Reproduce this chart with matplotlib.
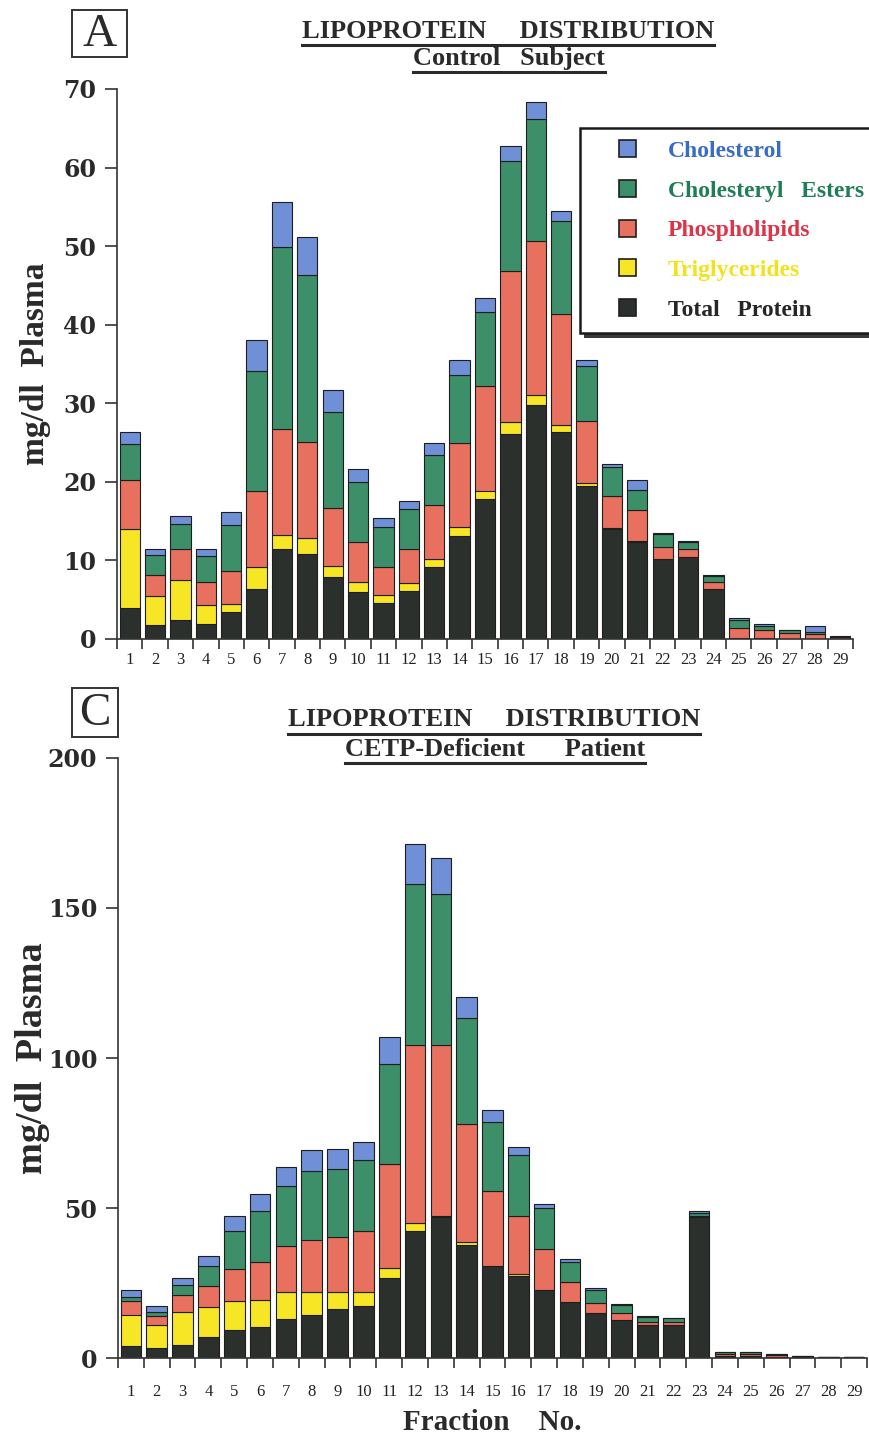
import matplotlib
matplotlib.use("Agg")
import matplotlib.pyplot as plt
import numpy as np
from matplotlib.patches import Rectangle
from matplotlib.lines import Line2D

# ---------------- data ----------------
fractions = list(range(1, 30))
fraction_labels = [str(f) for f in fractions]
components = ["Total   Protein", "Triglycerides", "Phospholipids",
              "Cholesteryl   Esters", "Cholesterol"]

# Panel A: control subject (mg/dl plasma per fraction)
ctrl_protein = [3.9, 1.8, 2.4, 1.9, 3.5, 6.4, 11.4, 10.8, 7.9, 6.0, 4.6, 6.1, 9.2, 13.1,
                17.8, 26.1, 29.8, 26.4, 19.5, 14.0, 12.4, 10.2, 10.4, 6.4, 0.1, 0.1, 0.05, 0.05, 0.05]
ctrl_tg = [10.1, 3.7, 5.1, 2.4, 0.9, 2.8, 1.9, 2.0, 1.4, 1.3, 1.0, 1.0, 1.0, 1.1,
           1.1, 1.5, 1.2, 0.9, 0.4, 0.1, 0.1, 0.0, 0.0, 0.0, 0.0, 0.0, 0.0, 0.0, 0.0]
ctrl_pl = [6.2, 2.6, 3.9, 3.0, 4.2, 9.7, 13.4, 12.3, 7.4, 5.0, 3.6, 4.4, 6.9, 10.7,
           13.3, 19.3, 19.6, 14.1, 7.9, 4.1, 3.9, 1.5, 1.0, 0.8, 1.3, 1.1, 0.75, 0.65, 0.2]
ctrl_ce = [4.6, 2.6, 3.3, 3.3, 5.9, 15.2, 23.2, 21.2, 12.2, 7.7, 5.1, 5.0, 6.3, 8.7,
           9.4, 13.9, 15.6, 11.8, 7.0, 3.7, 2.6, 1.7, 1.0, 0.8, 1.0, 0.4, 0.3, 0.2, 0.05]
ctrl_fc = [1.5, 0.7, 1.0, 0.9, 1.7, 3.9, 5.7, 4.9, 2.8, 1.7, 1.1, 1.1, 1.6, 1.9,
           1.8, 2.0, 2.1, 1.3, 0.7, 0.4, 1.3, 0.1, 0.1, 0.1, 0.3, 0.3, 0.1, 0.8, 0.05]

# Panel C: CETP-deficient patient
cetp_protein = [4.1, 3.3, 4.3, 6.9, 9.4, 10.4, 13.0, 14.3, 16.4, 17.4, 26.8, 42.3, 47.0, 37.6,
                30.7, 27.2, 22.7, 18.7, 14.9, 12.7, 10.9, 11.1, 47.0, 0.6, 0.6, 0.3, 0.5, 0.2, 0.3]
cetp_tg = [10.4, 7.6, 10.9, 10.2, 9.6, 8.8, 9.1, 7.8, 5.5, 4.6, 3.3, 2.6, 0.5, 1.0,
           0.0, 0.7, 0.0, 0.0, 0.0, 0.0, 0.0, 0.0, 0.0, 0.0, 0.0, 0.0, 0.0, 0.0, 0.0]
cetp_pl = [4.6, 3.1, 5.8, 6.9, 10.8, 12.9, 15.1, 17.4, 18.3, 20.3, 34.6, 59.3, 56.7, 39.5,
           25.0, 19.6, 13.5, 6.6, 3.5, 2.2, 1.1, 0.9, 0.5, 0.7, 0.7, 0.6, 0.1, 0.0, 0.0]
cetp_ce = [1.3, 1.5, 3.2, 6.8, 12.7, 16.8, 20.1, 23.0, 22.8, 23.8, 33.4, 53.8, 50.6, 35.2,
           22.9, 20.1, 13.7, 6.8, 4.3, 2.8, 1.7, 1.3, 1.0, 0.6, 0.6, 0.5, 0.1, 0.0, 0.0]
cetp_fc = [2.3, 1.7, 2.4, 3.2, 4.8, 5.7, 6.4, 6.8, 6.6, 6.0, 9.0, 13.3, 11.9, 7.1,
           4.0, 2.6, 1.5, 1.0, 0.7, 0.4, 0.2, 0.1, 0.6, 0.1, 0.1, 0.1, 0.0, 0.0, 0.0]

colors = ["#2b302d", "#f7e626", "#e8705e", "#3d8f6a", "#6f8fd6"]
text_colors = ["#262626", "#f2e21b", "#de3448", "#1f7d57", "#3a6cc4"]

W, H = 870, 1435
fig = plt.figure(figsize=(W / 100, H / 100), dpi=100)
fig.patch.set_facecolor("white")

SERIF = ["Liberation Serif", "DejaVu Serif"]
WIDE = ["DejaVu Serif"]


def fx(px):
    return px / W


def fy(py):
    return 1 - py / H


def stacked(ax, series, ymax, yticks, xlabel_pad):
    bottom = np.zeros(len(fractions))
    for vals, col in zip(series, colors):
        ax.bar(fractions, vals, width=0.8, bottom=bottom, color=col,
               edgecolor="#1e1e1e", linewidth=0.8, zorder=2)
        bottom += np.array(vals)
    ax.set_xlim(0.5, 29.5)
    ax.set_ylim(0, ymax)
    for s in ["top", "right"]:
        ax.spines[s].set_visible(False)
    ax.spines["left"].set_color("#333333")
    ax.spines["bottom"].set_color("#333333")
    ax.spines["left"].set_linewidth(1.2)
    ax.spines["bottom"].set_linewidth(1.2)
    ax.set_yticks(yticks)
    ax.set_yticklabels([str(v) for v in yticks], fontfamily=WIDE,
                       fontweight="bold", fontsize=17, color="#2a2a2a")
    ax.tick_params(axis="y", direction="out", length=9, width=1.2, pad=6,
                   color="#333333")
    ax.set_xticks(np.arange(0.5, 30.0, 1.0))
    ax.set_xticklabels([])
    ax.tick_params(axis="x", which="major", direction="out", length=7.5,
                   width=1.2, color="#333333")
    ax.set_xticks(fractions, minor=True)
    ax.set_xticklabels(fraction_labels, minor=True, fontfamily=SERIF,
                       fontsize=12, color="#222222")
    ax.tick_params(axis="x", which="minor", length=0, pad=xlabel_pad)


# ---------------- panel A ----------------
ax1 = fig.add_axes([fx(117), fy(639), fx(853) - fx(117), fy(89) - fy(639)])
stacked(ax1, [ctrl_protein, ctrl_tg, ctrl_pl, ctrl_ce, ctrl_fc], 70,
        list(range(0, 71, 10)), 9)
ax1.set_ylabel("mg/dl  Plasma", fontfamily=SERIF, fontweight="bold",
               fontsize=24, color="#2a2a2a", labelpad=9)

# ---------------- panel C ----------------
ax2 = fig.add_axes([fx(118), fy(1358), fx(867) - fx(118), fy(758) - fy(1358)])
stacked(ax2, [cetp_protein, cetp_tg, cetp_pl, cetp_ce, cetp_fc], 200,
        [0, 50, 100, 150, 200], 19)
ax2.set_ylabel("mg/dl  Plasma", fontfamily=SERIF, fontweight="bold",
               fontsize=27.5, color="#2a2a2a", labelpad=-2)
ax2.set_xlabel("Fraction    No.", fontfamily=SERIF, fontweight="bold",
               fontsize=21, color="#2a2a2a", labelpad=6)

# ---------------- titles ----------------
titles = [
    ("LIPOPROTEIN     DISTRIBUTION", 508, 31),
    ("Control   Subject", 509, 58),
    ("LIPOPROTEIN     DISTRIBUTION", 494, 720),
    ("CETP-Deficient      Patient", 495, 749),
]
title_texts = []
for s, x, y in titles:
    t = fig.text(fx(x), fy(y), s, ha="center", va="center", fontfamily=SERIF,
                 fontweight="bold", fontsize=19, color="#2a2a2a")
    title_texts.append(t)

# panel letters
for letter, (x0, y0, x1, y1) in [("A", (72, 10, 127, 57)), ("C", (72, 688, 118, 737))]:
    fig.patches.append(Rectangle((fx(x0), fy(y1)), fx(x1) - fx(x0), fy(y0) - fy(y1),
                                 transform=fig.transFigure, fill=False,
                                 edgecolor="#333333", linewidth=1.4))
    fig.text(fx((x0 + x1) / 2), fy((y0 + y1) / 2 + 1), letter, ha="center", va="center",
             fontfamily=SERIF, fontsize=34, color="#2a2a2a")

# ---------------- legend ----------------
lx0, ly0, lx1, ly1 = 580, 128, 880, 333
fig.patches.append(Rectangle((fx(lx0 + 4), fy(ly1 + 5)), fx(lx1) - fx(lx0), fy(ly0) - fy(ly1),
                             transform=fig.transFigure, facecolor="#3a3a3a",
                             edgecolor="none", zorder=5))
fig.patches.append(Rectangle((fx(lx0), fy(ly1)), fx(lx1) - fx(lx0), fy(ly0) - fy(ly1),
                             transform=fig.transFigure, facecolor="white",
                             edgecolor="#1a1a1a", linewidth=1.8, zorder=6))
handles = [Rectangle((0, 0), 1, 1, facecolor=c, edgecolor="#1e1e1e", linewidth=1.2)
           for c in colors][::-1]
leg = fig.legend(handles, components[::-1], loc="upper left",
                 bbox_to_anchor=(fx(619), fy(140)), bbox_transform=fig.transFigure,
                 frameon=False, borderpad=0, borderaxespad=0,
                 handlelength=0.74, handleheight=0.74, handletextpad=1.33,
                 labelspacing=0.76,
                 prop=dict(family=SERIF, weight="bold", size=17))
leg.set_zorder(8)
for txt, c in zip(leg.get_texts(), text_colors[::-1]):
    txt.set_color(c)

# ---------------- underlines ----------------
fig.canvas.draw()
r = fig.canvas.get_renderer()
for t in title_texts:
    bb = t.get_window_extent(r)
    yline = bb.y0 - 2
    fig.add_artist(Line2D([bb.x0 / W, bb.x1 / W], [yline / H, yline / H],
                          transform=fig.transFigure, color="#2a2a2a", linewidth=2.2))

fig.savefig("out.png", dpi=100)
